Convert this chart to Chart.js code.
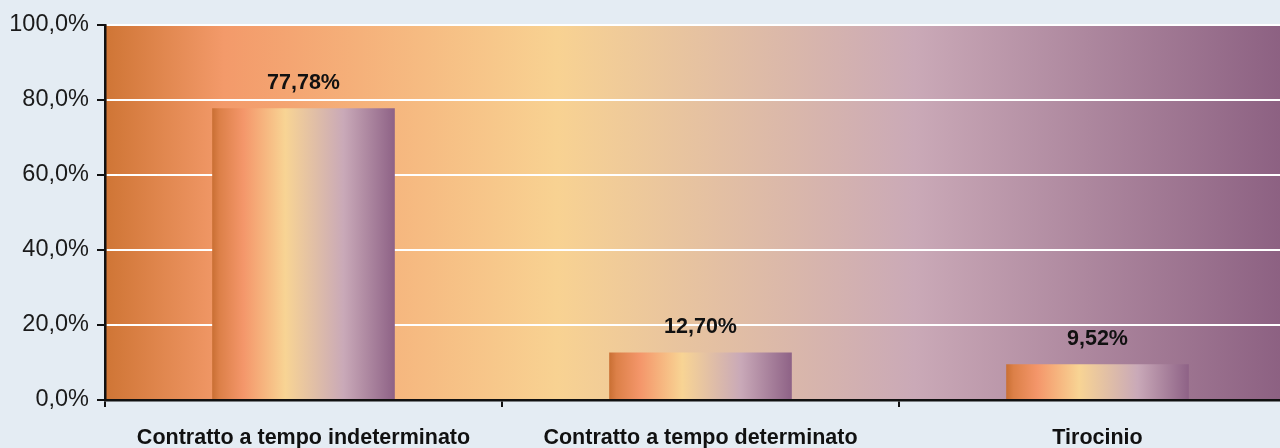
<!DOCTYPE html>
<html>
<head>
<meta charset="utf-8">
<script src="https://cdn.jsdelivr.net/npm/chart.js@4/dist/chart.umd.min.js"></script>
<style>
  html, body { margin: 0; padding: 0; background: #e4ecf3; overflow: hidden; }
  #wrap { width: 1296px; height: 448px; position: relative; }
</style>
</head>
<body>
<div id="wrap"><canvas id="contratti"></canvas></div>
<script>
const categories = ['Contratto a tempo indeterminato', 'Contratto a tempo determinato', 'Tirocinio'];
const percentages = [77.78, 12.70, 9.52];
const yTicks = [0, 20, 40, 60, 80, 100];

const BAR_PCT = 0.46;

// orange -> peach -> sand -> lilac -> plum
function addStops(g, stops) {
    stops.forEach(s => g.addColorStop(s[0], s[1]));
    return g;
}
const areaStops = [[0, '#cf7535'], [0.1, '#f39a6a'], [0.38, '#f8d292'], [0.68, '#caa9b7'], [1, '#8a5e80']];
const barStops = [[0, '#c96f33'], [0.04, '#dc8048'], [0.17, '#f4966a'], [0.4, '#f8d494'], [0.72, '#c9a9b8'], [1, '#8e6286']];

const areaBackground = {
    id: 'areaBackground',
    beforeDraw(chart) {
        const { ctx, chartArea: a } = chart;
        ctx.save();
        ctx.fillStyle = addStops(ctx.createLinearGradient(a.left, 0, a.right, 0), areaStops);
        ctx.fillRect(a.left, a.top, a.right - a.left, a.bottom - a.top);
        ctx.restore();
    }
};

const valueLabels = {
    id: 'valueLabels',
    afterDatasetsDraw(chart) {
        const { ctx } = chart;
        ctx.save();
        ctx.font = 'bold 21.5px "Liberation Sans", Arial, sans-serif';
        ctx.fillStyle = '#111';
        ctx.textAlign = 'center';
        ctx.textBaseline = 'middle';
        chart.getDatasetMeta(0).data.forEach((bar, i) => {
            ctx.fillText(percentages[i].toFixed(2).replace('.', ',') + '%', bar.x, bar.y - 25);
        });
        ctx.restore();
    }
};

function barGradient(c) {
    const chart = c.chart;
    const x = chart.scales.x;
    if (!chart.chartArea || !x) return '#f4b080';
    const center = x.getPixelForValue(c.dataIndex);
    const w = (x.width / categories.length) * BAR_PCT;
    return addStops(chart.ctx.createLinearGradient(center - w / 2, 0, center + w / 2, 0), barStops);
}

new Chart(document.getElementById('contratti'), {
    type: 'bar',
    data: {
        labels: categories,
        datasets: [{
            data: percentages,
            backgroundColor: barGradient,
            borderWidth: 0,
            categoryPercentage: 1,
            barPercentage: BAR_PCT
        }]
    },
    options: {
        responsive: true,
        maintainAspectRatio: false,
        animation: false,
        layout: { padding: { top: 25, right: 0, bottom: 0, left: 0 } },
        plugins: { legend: { display: false }, tooltip: { enabled: false } },
        scales: {
            x: {
                afterFit: s => { s.height = 48; },
                border: { color: '#111', width: 2.5 },
                grid: { drawOnChartArea: false, tickColor: '#111', tickLength: 7, lineWidth: 2, offset: true },
                ticks: {
                    color: '#111',
                    padding: 18,
                    maxRotation: 0,
                    font: { family: '"Liberation Sans", Arial, sans-serif', size: 21.5, weight: 'bold' }
                }
            },
            y: {
                min: 0,
                max: 100,
                afterFit: s => { s.width = 105; },
                afterBuildTicks: s => { s.ticks = yTicks.map(v => ({ value: v })); },
                border: { color: '#111', width: 2.5 },
                grid: { color: '#ffffff', lineWidth: 2, tickColor: '#111', tickLength: 8 },
                ticks: {
                    color: '#1a1a1a',
                    padding: 8,
                    font: { family: '"Liberation Sans", Arial, sans-serif', size: 23.5 },
                    callback: v => v.toFixed(1).replace('.', ',') + '%'
                }
            }
        }
    },
    plugins: [areaBackground, valueLabels]
});
</script>
</body>
</html>
